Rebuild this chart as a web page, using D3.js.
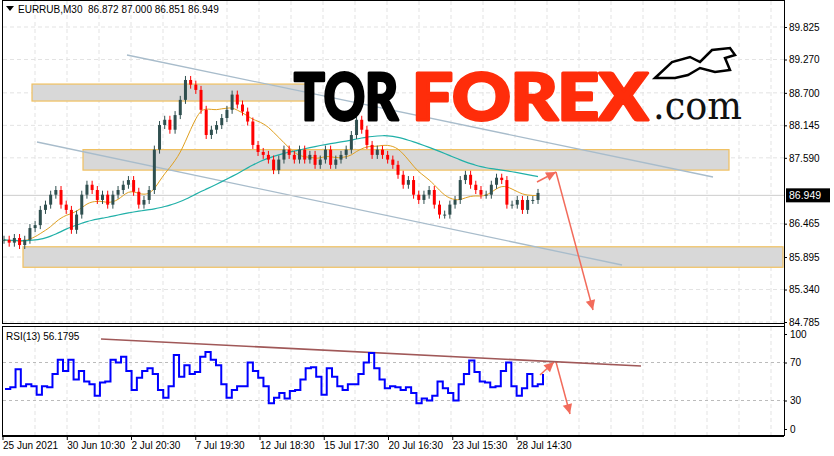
<!DOCTYPE html>
<html><head><meta charset="utf-8">
<script src="https://d3js.org/d3.v7.min.js"></script>
<style>body{margin:0;background:#fff}svg{display:block;font-family:"Liberation Sans",Arial,sans-serif}</style>
</head><body><svg id="c" width="834" height="456"></svg>
<script>
const closes=[86.19,86.14,86.22,86.10,86.19,86.39,86.44,86.70,86.79,86.96,87.04,86.79,86.70,86.36,86.62,86.96,87.13,87.04,86.87,86.96,86.79,86.96,87.04,87.13,87.21,87.01,86.79,86.87,87.04,87.73,88.15,88.24,88.07,88.32,88.58,88.92,88.84,88.75,88.41,87.98,88.07,88.15,88.27,88.41,88.67,88.50,88.38,88.21,87.81,87.69,87.64,87.56,87.38,87.56,87.73,87.64,87.56,87.73,87.56,87.64,87.47,87.56,87.73,87.47,87.56,87.64,87.73,87.98,88.24,88.07,87.81,87.64,87.73,87.64,87.56,87.47,87.30,87.13,87.21,86.96,86.87,86.96,87.04,86.79,86.62,86.62,86.79,86.87,87.21,87.30,87.13,87.04,86.96,86.96,87.13,87.25,87.21,86.79,86.79,86.87,86.70,86.87,86.87,86.99];
const rsi=[42,44,63,45,47,45,36,45,44,58,73,61,73,52,61,50,47,35,49,50,73,70,76,61,41,54,61,64,58,41,33,45,78,55,67,58,60,76,81,73,67,47,33,41,45,45,70,61,54,45,27,33,38,32,40,41,52,64,65,55,36,64,55,45,41,47,47,58,70,80,64,52,43,45,44,41,44,38,27,32,30,35,50,43,38,30,47,58,72,60,50,49,44,45,61,70,45,35,43,58,45,47,58];
const priceTicks=[89.825,89.270,88.700,88.145,87.590,86.465,85.895,85.340,84.785];
const rsiTicks=[100,70,30,0];
const dateLabels=["25 Jun 2021","30 Jun 10:30","2 Jul 20:30","7 Jul 19:30","12 Jul 18:30","15 Jul 17:30","20 Jul 16:30","23 Jul 15:30","28 Jul 14:30"];
const header="EURRUB,M30  86.872 87.000 86.851 86.949";
const lastPrice=86.949, rsiLast="RSI(13) 56.1795";

const svg=d3.select("#c");
const W=784;
const y=d3.scaleLinear().domain([84.785,89.825]).range([322,27]);
const x=d3.scaleLinear().domain([0,closes.length-1]).range([4,538]);
const xr=d3.scaleLinear().domain([0,rsi.length-1]).range([5,543]);
const yr=d3.scaleLinear().domain([0,100]).range([429,334]);
const xd=d3.scaleLinear().domain([0,dateLabels.length-1]).range([3,517]);

svg.append("rect").attr("x",2.5).attr("y",0.5).attr("width",W-2).attr("height",323).attr("fill","#fff").attr("stroke","#000");
svg.append("rect").attr("x",2.5).attr("y",326.5).attr("width",W-2).attr("height",109).attr("fill","#fff").attr("stroke","#000");
const g=svg.append("g").attr("stroke","#e3e3e3").attr("stroke-dasharray","4,3");
for(let gx=35;gx<W;gx+=32){g.append("line").attr("x1",gx).attr("x2",gx).attr("y1",1).attr("y2",323);g.append("line").attr("x1",gx).attr("x2",gx).attr("y1",327).attr("y2",435);}
priceTicks.forEach(t=>g.append("line").attr("x1",3).attr("x2",W).attr("y1",y(t)).attr("y2",y(t)));
[70,30].forEach(t=>svg.append("line").attr("x1",3).attr("x2",W).attr("y1",yr(t)).attr("y2",yr(t)).attr("stroke","#bbb").attr("stroke-dasharray","3,3"));
const zones=[[32,310,88.85,88.56],[83,729,87.73,87.38],[23,783,86.07,85.72]];
zones.forEach(z=>svg.append("rect").attr("x",z[0]).attr("width",z[1]-z[0]).attr("y",y(z[2])).attr("height",y(z[3])-y(z[2])).attr("fill","#d8d8d8").attr("stroke","#f0c060").attr("stroke-width",1.2));
svg.append("line").attr("x1",127).attr("y1",55).attr("x2",713).attr("y2",177).attr("stroke","#a8bccb").attr("stroke-width",1.3);
svg.append("line").attr("x1",37).attr("y1",142).attr("x2",622).attr("y2",265).attr("stroke","#a8bccb").attr("stroke-width",1.3);
svg.append("line").attr("x1",3).attr("x2",W).attr("y1",y(lastPrice)).attr("y2",y(lastPrice)).attr("stroke","#ccc");
function sma(a,n){return a.map((v,i)=>{const s=a.slice(Math.max(0,i-n+1),i+1);return d3.mean(s);});}
const line=d3.line().x((d,i)=>x(i)).y(d=>y(d)).curve(d3.curveBasis);
svg.append("path").attr("d",line(sma(closes,10))).attr("fill","none").attr("stroke","#e0a020").attr("stroke-width",1);
svg.append("path").attr("d",line(sma(sma(closes,40),8))).attr("fill","none").attr("stroke","#20b0a8").attr("stroke-width",1.2);
closes.forEach((c,i)=>{const o=i?closes[i-1]:c;const up=c>=o;const col=up?"#2f4f4f":"#ff0000";
 const top=y(Math.max(o,c)),bot=y(Math.min(o,c));
 svg.append("line").attr("x1",x(i)).attr("x2",x(i)).attr("y1",top-4).attr("y2",bot+4).attr("stroke",col);
 svg.append("rect").attr("x",x(i)-1.5).attr("width",3).attr("y",top).attr("height",Math.max(1,bot-top)).attr("fill",col);});
const red="#f26b5b";
function arrow(x1,y1,x2,y2){svg.append("line").attr("x1",x1).attr("y1",y1).attr("x2",x2).attr("y2",y2).attr("stroke",red).attr("stroke-width",1.5);
 const a=Math.atan2(y2-y1,x2-x1),L=11,w=0.45;
 svg.append("path").attr("d",`M${x2},${y2}L${x2-L*Math.cos(a-w)},${y2-L*Math.sin(a-w)}L${x2-L*Math.cos(a+w)},${y2-L*Math.sin(a+w)}Z`).attr("fill",red);}
arrow(537,182,556,172);arrow(556,172,593,310);
arrow(540,375,554,362);arrow(556,362,570,414);
const lg=svg.append("g").attr("font-family","Lato,'DejaVu Sans',sans-serif").attr("font-weight",900).attr("stroke-width",3).attr("stroke-linejoin","round");
lg.append("text").attr("x",294).attr("y",120).attr("font-size",64).attr("textLength",104).attr("lengthAdjust","spacingAndGlyphs").attr("fill","#000").attr("stroke","#000").text("TOR");
lg.append("text").attr("x",412).attr("y",120).attr("font-size",64).attr("textLength",236).attr("lengthAdjust","spacingAndGlyphs").attr("fill","#ff2d0a").attr("stroke","#ff2d0a").text("FOREX");
svg.append("text").attr("x",653).attr("y",119).attr("font-size",40).attr("font-family","'DejaVu Serif',serif").attr("textLength",89).attr("lengthAdjust","spacingAndGlyphs").attr("fill","#111").text(".com");
svg.append("path").attr("d","M655,78 L672,62 L690,57 L700,62 L712,50 L730,48 L735,55 L725,58 L730,70 L715,72 L700,68 L688,75 L675,78 Z").attr("fill","#fff").attr("stroke","#000").attr("stroke-width",2.5);
svg.append("line").attr("x1",101).attr("y1",339).attr("x2",641).attr("y2",366).attr("stroke","#a05858").attr("stroke-width",1.6);
svg.append("path").attr("d",d3.line().x((d,i)=>xr(i)).y(d=>yr(d)).curve(d3.curveStepAfter)(rsi)).attr("fill","none").attr("stroke","#0000ff").attr("stroke-width",2);
const ax=svg.append("g").attr("transform",`translate(${W},0)`).call(d3.axisRight(y).tickValues(priceTicks).tickFormat(d3.format(".3f")).tickSize(3));
ax.select(".domain").remove();ax.selectAll("text").attr("font-size",10).attr("fill","#000").attr("dx",-1);
const ar=svg.append("g").attr("transform",`translate(${W},0)`).call(d3.axisRight(yr).tickValues(rsiTicks).tickSize(3));
ar.select(".domain").remove();ar.selectAll("text").attr("font-size",10).attr("fill","#000");
svg.append("line").attr("x1",W+.5).attr("x2",W+.5).attr("y1",0).attr("y2",436).attr("stroke","#000");
svg.append("rect").attr("x",786).attr("y",y(lastPrice)-7).attr("width",44).attr("height",14).attr("fill","#000");
svg.append("text").attr("x",789).attr("y",y(lastPrice)+4).attr("font-size",10.5).attr("fill","#fff").text(lastPrice.toFixed(3));
svg.append("line").attr("x1",2).attr("x2",W).attr("y1",436.5).attr("y2",436.5).attr("stroke","#000");
dateLabels.forEach((d,i)=>{svg.append("line").attr("x1",xd(i)).attr("x2",xd(i)).attr("y1",436).attr("y2",440).attr("stroke","#000");
 svg.append("text").attr("x",xd(i)).attr("y",449).attr("font-size",10).attr("fill","#000").text(d);});
svg.append("path").attr("d","M6,6 L14,6 L10,11 Z").attr("fill","#000");
svg.append("text").attr("x",18).attr("y",13).attr("font-size",10).attr("fill","#000").attr("xml:space","preserve").text(header);
svg.append("text").attr("x",6).attr("y",340).attr("font-size",10).attr("fill","#000").text(rsiLast);
</script></body></html>
